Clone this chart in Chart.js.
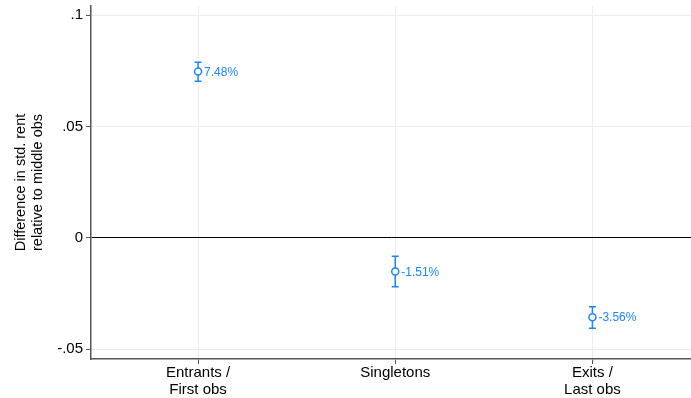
<!DOCTYPE html>
<html>
<head>
<meta charset="utf-8">
<script src="https://cdn.jsdelivr.net/npm/chart.js@4"></script>
<style>
  html, body { margin: 0; padding: 0; background: #fff; }
  #wrap { width: 691px; height: 398px; }
</style>
</head>
<body>
<div id="wrap"><canvas id="chart"></canvas></div>
<script>
// data
const categories = [['Entrants /', 'First obs'], ['Singletons'], ['Exits /', 'Last obs']];
const estimates = [0.0748, -0.0151, -0.0356];
const ciLow = [0.0704, -0.0219, -0.0406];
const ciHigh = [0.0789, -0.0082, -0.0309];
const pointLabels = ['7.48%', '-1.51%', '-3.56%'];
const yTicks = [-0.05, 0, 0.05, 0.1];
const yTickLabels = ['-.05', '0', '.05', '.1'];

const blue = '#1a85ff';
const font = 'Liberation Sans, Arial, sans-serif';

// error bars + value labels
const extras = {
    id: 'extras',
    afterDatasetsDraw(chart) {
        const ctx = chart.ctx;
        const xs = chart.scales.x, ys = chart.scales.y;
        ctx.save();
        ctx.strokeStyle = blue;
        ctx.lineWidth = 1.5;
        estimates.forEach((v, i) => {
            const x = xs.getPixelForValue(i + 1);
            const y1 = ys.getPixelForValue(ciHigh[i]);
            const y2 = ys.getPixelForValue(ciLow[i]);
            ctx.beginPath();
            ctx.moveTo(x, y1); ctx.lineTo(x, y2);
            ctx.moveTo(x - 3.5, y1); ctx.lineTo(x + 3.5, y1);
            ctx.moveTo(x - 3.5, y2); ctx.lineTo(x + 3.5, y2);
            ctx.stroke();
        });
        // points drawn over the bars
        estimates.forEach((v, i) => {
            const x = xs.getPixelForValue(i + 1);
            const y = ys.getPixelForValue(v);
            ctx.beginPath();
            ctx.arc(x, y, 3.5, 0, Math.PI * 2);
            ctx.fillStyle = '#fff';
            ctx.fill();
            ctx.stroke();
            ctx.fillStyle = blue;
            ctx.font = '12px ' + font;
            ctx.textAlign = 'left';
            ctx.textBaseline = 'middle';
            ctx.fillText(pointLabels[i], x + 6, y + 1);
        });
        ctx.restore();
    }
};

new Chart(document.getElementById('chart'), {
    type: 'scatter',
    data: {
        datasets: [{
            data: estimates.map((v, i) => ({ x: i + 1, y: v })),
            pointRadius: 0,
            borderColor: blue,
            backgroundColor: '#fff'
        }]
    },
    options: {
        responsive: true,
        maintainAspectRatio: false,
        animation: false,
        layout: { padding: { top: 6, right: 0, left: 0, bottom: 0 } },
        plugins: { legend: { display: false }, tooltip: { enabled: false } },
        scales: {
            x: {
                type: 'linear',
                min: 0.457,
                max: 3.5,
                afterBuildTicks: axis => { axis.ticks = categories.map((c, i) => ({ value: i + 1 })); },
                afterFit: axis => { axis.height = 39; axis.paddingLeft = 0; axis.paddingRight = 0; },
                ticks: {
                    callback: (v, i) => categories[i],
                    color: '#000',
                    font: { family: font, size: 15, lineHeight: 1.1 },
                    padding: 1,
                    maxRotation: 0,
                    autoSkip: false
                },
                grid: {
                    color: '#ececec',
                    tickColor: '#555',
                    tickLength: 5
                },
                border: { color: '#555', width: 1.5 }
            },
            y: {
                min: -0.0544,
                max: 0.1042,
                afterBuildTicks: axis => { axis.ticks = yTicks.map(v => ({ value: v })); },
                afterFit: axis => { axis.width = 91; axis.paddingTop = 0; axis.paddingBottom = 0; },
                ticks: {
                    callback: (v, i) => yTickLabels[i],
                    color: '#000',
                    font: { family: font, size: 15 },
                    padding: 3
                },
                grid: {
                    color: ctx => ctx.tick && ctx.tick.value === 0 ? '#000' : '#ececec',
                    tickColor: '#555',
                    tickLength: 5
                },
                border: { color: '#555', width: 1.5 },
                title: {
                    display: true,
                    text: ['Difference in std. rent', 'relative to middle obs'],
                    color: '#000',
                    font: { family: font, size: 14.5 },
                    padding: { top: 12, bottom: 0 }
                }
            }
        }
    },
    plugins: [extras]
});
</script>
</body>
</html>
